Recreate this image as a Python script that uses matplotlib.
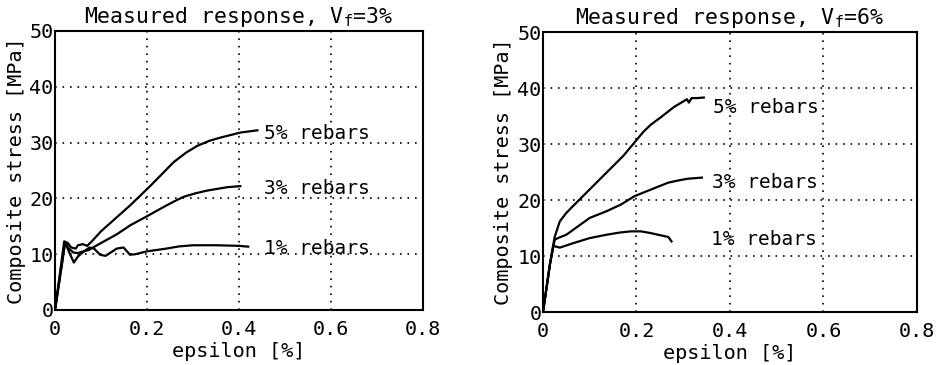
import matplotlib
matplotlib.use('Agg')
import matplotlib.pyplot as plt

# Fonts: typewriter look similar to the old plotter output
plt.rcParams['font.family'] = ['DejaVu Sans Mono']
plt.rcParams['mathtext.fontset'] = 'custom'
plt.rcParams['mathtext.rm'] = 'DejaVu Sans Mono'
plt.rcParams['mathtext.it'] = 'DejaVu Sans Mono'

# Axis ticks
x_ticks = [0, 0.2, 0.4, 0.6, 0.8]
x_tick_labels = ['0', '0.2', '0.4', '0.6', '0.8']
y_ticks = [0, 10, 20, 30, 40, 50]
y_tick_labels = ['0', '10', '20', '30', '40', '50']

# Vf = 3% panel (strain in %, stress in MPa)
eps_3_r5 = [0, 0.020, 0.028, 0.035, 0.045, 0.050, 0.060, 0.070, 0.080, 0.100, 0.130,
            0.164, 0.208, 0.258, 0.285, 0.309, 0.335, 0.360, 0.403, 0.440]
sig_3_r5 = [0, 12.3, 12.0, 11.2, 11.0, 11.6, 11.8, 11.5, 12.3, 14.1, 16.3,
            18.8, 22.3, 26.5, 28.2, 29.4, 30.3, 30.9, 31.8, 32.2]
eps_3_r3 = [0, 0.022, 0.030, 0.040, 0.050, 0.065, 0.072, 0.100, 0.135, 0.164, 0.200,
            0.237, 0.260, 0.280, 0.305, 0.331, 0.374, 0.403]
sig_3_r3 = [0, 12.0, 11.0, 10.3, 10.2, 10.6, 10.7, 12.0, 13.6, 15.2, 16.8,
            18.5, 19.5, 20.3, 20.9, 21.4, 22.0, 22.2]
eps_3_r1 = [0, 0.022, 0.030, 0.041, 0.050, 0.060, 0.075, 0.085, 0.098, 0.110, 0.134,
            0.149, 0.163, 0.175, 0.199, 0.242, 0.270, 0.300, 0.350, 0.400, 0.420]
sig_3_r1 = [0, 12.2, 10.5, 8.5, 9.6, 10.3, 11.2, 11.0, 9.9, 9.7, 11.0,
            11.2, 9.9, 10.0, 10.5, 11.0, 11.4, 11.6, 11.6, 11.5, 11.35]

# Vf = 6% panel
eps_6_r5 = [0, 0.015, 0.025, 0.036, 0.050, 0.064, 0.100, 0.136, 0.172, 0.193, 0.215,
            0.230, 0.254, 0.280, 0.300, 0.308, 0.312, 0.318, 0.330, 0.344]
sig_6_r5 = [0, 8.6, 13.4, 16.2, 17.7, 18.9, 21.9, 24.9, 27.9, 30.0, 32.2,
            33.4, 34.9, 36.6, 37.6, 38.0, 37.4, 38.2, 38.2, 38.3]
eps_6_r3 = [0, 0.015, 0.025, 0.032, 0.050, 0.065, 0.100, 0.136, 0.167, 0.196, 0.232,
            0.268, 0.290, 0.310, 0.340]
sig_6_r3 = [0, 8.6, 12.9, 13.2, 13.8, 14.7, 16.8, 18.0, 19.2, 20.7, 21.9,
            23.1, 23.5, 23.8, 24.0]
eps_6_r1 = [0, 0.015, 0.022, 0.036, 0.065, 0.100, 0.136, 0.165, 0.188, 0.210, 0.230,
            0.246, 0.268, 0.275]
sig_6_r1 = [0, 8.6, 11.8, 11.5, 12.3, 13.2, 13.8, 14.2, 14.4, 14.4, 14.1,
            13.8, 13.4, 12.6]

panels = [
    {
        'title': 'Measured response, V$_\\mathrm{f}$=3%',
        'rect': [0.0587, 0.1507, 0.3927, 0.7644],
        'curves': [(eps_3_r5, sig_3_r5), (eps_3_r3, sig_3_r3), (eps_3_r1, sig_3_r1)],
        'labels': [(0.685, 31.7, '5% rebars'), (0.685, 21.7, '3% rebars'),
                   (0.685, 11.1, '1% rebars')],
    },
    {
        'title': 'Measured response, V$_\\mathrm{f}$=6%',
        'rect': [0.5795, 0.1452, 0.3991, 0.7671],
        'curves': [(eps_6_r5, sig_6_r5), (eps_6_r3, sig_6_r3), (eps_6_r1, sig_6_r1)],
        'labels': [(0.590, 36.6, '5% rebars'), (0.587, 23.2, '3% rebars'),
                   (0.585, 12.9, '1% rebars')],
    },
]

fig = plt.figure(figsize=(9.37, 3.65), dpi=100)

for p in panels:
    ax = fig.add_axes(p['rect'])
    for eps, sig in p['curves']:
        ax.plot(eps, sig, color='black', linewidth=1.6)
    for x, y, txt in p['labels']:
        ax.text(x, y, txt, ha='right', va='center', fontsize=14, color='black')

    ax.set_xlim(0, 0.8)
    ax.set_ylim(0, 50)
    ax.set_xticks(x_ticks)
    ax.set_xticklabels(x_tick_labels)
    ax.set_yticks(y_ticks)
    ax.set_yticklabels(y_tick_labels)
    ax.tick_params(axis='both', length=0, labelsize=14.5)
    ax.tick_params(axis='x', pad=7)
    ax.tick_params(axis='y', pad=1)
    ax.grid(True, color='black', linestyle=(0, (1, 3.5)), linewidth=1.2)
    for s in ax.spines.values():
        s.set_linewidth(1.5)

    ax.set_title(p['title'], fontsize=15.5, pad=6)
    ax.set_xlabel('epsilon [%]', fontsize=14.5)
    ax.set_ylabel('Composite stress [MPa]', fontsize=14.5)
    ax.xaxis.set_label_coords(0.5, -0.115)
    ax.yaxis.set_label_coords(-0.08, 0.5)

fig.savefig('out.png', dpi=100, facecolor='white')
